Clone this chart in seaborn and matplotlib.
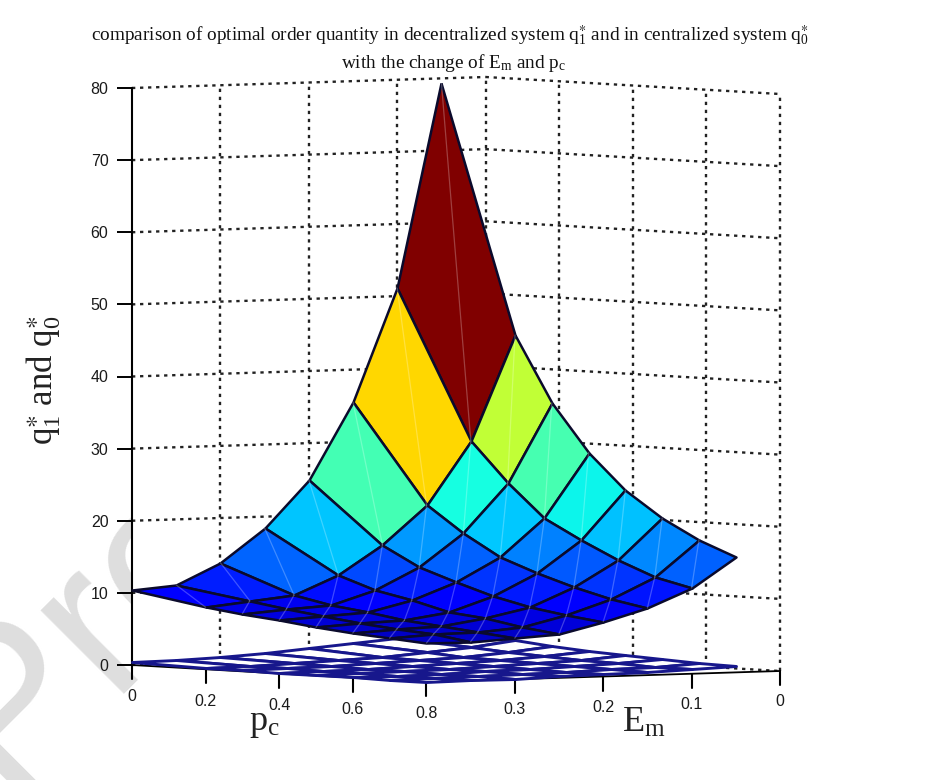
import numpy as np
import matplotlib
matplotlib.use("Agg")
import matplotlib.pyplot as plt
from matplotlib.colors import ListedColormap, FuncNorm
import seaborn as sns

sns.set_theme(style="white")
plt.rcParams["font.family"] = ["Liberation Sans", "DejaVu Sans"]
plt.rcParams["mathtext.fontset"] = "custom"
plt.rcParams["mathtext.rm"] = "Liberation Serif"
plt.rcParams["mathtext.it"] = "Liberation Serif"
plt.rcParams["mathtext.bf"] = "Liberation Serif:bold"

# ---- data ----
pc_values = [0.0, 0.2, 0.3, 0.4, 0.5, 0.6, 0.7, 0.8]
em_values = [0.05, 0.10, 0.15, 0.20, 0.25, 0.30, 0.35, 0.40]
q_surface = [
    [79.4, 51.1, 35.5, 24.9, 18.4, 13.8, 10.9, 10.4],
    [45.0, 30.5, 21.8, 16.5, 12.5, 9.9, 9.3, 8.6],
    [35.9, 25.0, 18.2, 13.7, 10.7, 8.8, 8.5, 8.0],
    [29.3, 20.4, 15.2, 11.9, 9.6, 8.1, 7.8, 7.4],
    [24.4, 17.7, 13.3, 10.3, 8.3, 7.3, 7.1, 6.7],
    [20.8, 15.2, 11.6, 9.0, 7.7, 6.8, 6.6, 6.2],
    [18.1, 13.1, 10.3, 8.2, 6.8, 6.3, 6.2, 5.8],
    [16.0, 11.9, 9.3, 7.6, 6.1, 5.7, 5.4, 5.4],
]
q_floor = [
    [3.2, 2.6, 2.1, 1.6, 1.1, 0.7, 0.5, 0.4],
    [2.7, 1.9, 1.4, 1.0, 0.7, 0.5, 0.3, 0.2],
    [2.2, 1.5, 1.1, 0.8, 0.55, 0.4, 0.25, 0.15],
    [1.8, 1.25, 0.9, 0.65, 0.45, 0.3, 0.2, 0.1],
    [1.5, 1.05, 0.75, 0.55, 0.35, 0.25, 0.15, 0.1],
    [1.3, 0.9, 0.65, 0.45, 0.3, 0.2, 0.1, 0.08],
    [1.0, 0.7, 0.5, 0.35, 0.25, 0.15, 0.1, 0.05],
    [0.9, 0.6, 0.4, 0.3, 0.2, 0.1, 0.05, 0.05],
]
z_ticks = [0, 10, 20, 30, 40, 50, 60, 70, 80]
pc_ticks = [0, 0.2, 0.4, 0.6, 0.8]
em_ticks = [0.3, 0.2, 0.1, 0]
pc_labels = ["0", "0.2", "0.4", "0.6", "0.8"]
em_labels = ["0.3", "0.2", "0.1", "0"]
title_1 = r"comparison of optimal order quantity in decentralized system $\mathregular{q_1^{\ast}}$ and in centralized system $\mathregular{q_0^{\ast}}$"
title_2 = r"with the change of $\mathregular{E_m}$ and $\mathregular{p_c}$"

W, H = 932, 780
PX_Z = 577 / 80
EDGE = "#0a0a2c"
GRID = "#222222"


def project(pc, em, z):
    """Oblique view of (pc, Em, q) onto the plot plane."""
    pc, em, z = np.asarray(pc, float), np.asarray(em, float), np.asarray(z, float)
    u = 368 * pc + 884 * (0.4 - em)
    v = z + (-21.25 * pc + 27.5 * (0.4 - em)) / PX_Z
    return u, v


def line(ax, pc, em, z, **kw):
    u, v = project(pc, em, z)
    sns.lineplot(x=np.atleast_1d(u), y=np.atleast_1d(v), ax=ax, sort=False,
                 estimator=None, clip_on=False, **kw)


def facet_level(z):
    return np.interp(z, [1, 10, 24.9, 35.5, 51.1, 79.4], [0, 0.10, 0.32, 0.43, 0.68, 1])


def facet_level_inv(t):
    return np.interp(t, [0, 0.10, 0.32, 0.43, 0.68, 1], [1, 10, 24.9, 35.5, 51.1, 79.4])


fig = plt.figure(figsize=(W / 100, H / 100), dpi=100, facecolor="white")

# watermark fragment behind the chart
fig.text(4 / W, 1 - 796 / H, "Pre", fontsize=160, color="#dedede", rotation=45,
         rotation_mode="anchor", ha="left", va="baseline", family="Liberation Sans", zorder=-5)

ax = fig.add_axes([132 / W, 1 - 665 / H, 648 / W, 577 / H])
ax.patch.set_facecolor("white")
for s in ["top", "right", "bottom"]:
    ax.spines[s].set_visible(False)

grid_kw = dict(color=GRID, linewidth=1.7, linestyle=(0, (1.4, 2.0)), zorder=1)
for z in z_ticks:
    line(ax, [0, 0], [0.4, 0], [z, z], **grid_kw)
    line(ax, [0, 0.8], [0, 0], [z, z], **grid_kw)
for em in [0.3, 0.2, 0.1, 0.0]:
    line(ax, [0, 0], [em, em], [0, 80], **grid_kw)
for pc in [0.2, 0.4, 0.6, 0.8]:
    line(ax, [pc, pc], [0, 0], [0, 80], **grid_kw)

# floor outline and its ticks
line(ax, [0, 0.8, 0.8], [0.4, 0.4, 0], [0, 0, 0], color="black", linewidth=1.3, zorder=2)
tick_drop = 14 / PX_Z
for pc in pc_ticks:
    line(ax, [pc, pc], [0.4, 0.4], [0, -tick_drop], color="black", linewidth=1.5, zorder=2)
for em in em_ticks:
    line(ax, [0.8, 0.8], [em, em], [0, -tick_drop], color="black", linewidth=1.5, zorder=2)

tick_font = dict(fontsize=11.5, color="#1a1a1a", ha="center", va="center",
                 textcoords="offset points", annotation_clip=False)
for pc, lab in zip(pc_ticks, pc_labels):
    u, v = project(pc, 0.4, 0)
    ax.annotate(lab, (u, v), xytext=(0, -23), **tick_font)
for em, lab in zip(em_ticks, em_labels):
    u, v = project(0.8, em, 0)
    ax.annotate(lab, (u, v), xytext=(0, -22), **tick_font)

PC, EM = np.meshgrid(pc_values, em_values, indexing="ij")
Zs = np.array(q_surface)
Zf = np.array(q_floor)

# lower surface: white mesh
Xf, Yf = project(PC, EM, Zf)
ax.pcolormesh(Xf, Yf, Zf[:-1, :-1], cmap=ListedColormap(["white"]), shading="flat",
              edgecolors="#17178c", linewidth=2.1, antialiased=True, zorder=3, clip_on=False)

# upper surface: one colour per facet
Xs, Ys = project(PC, EM, Zs)
norm = FuncNorm((facet_level, facet_level_inv), vmin=1, vmax=79.4)
ax.pcolormesh(Xs, Ys, Zs[:-1, :-1], cmap="jet", norm=norm, shading="flat",
              edgecolors=EDGE, linewidth=1.8, antialiased=True, zorder=4, clip_on=False)
# faint facet diagonals
for i in range(len(pc_values) - 1):
    for j in range(len(em_values) - 1):
        ax.plot([Xs[i, j], Xs[i + 1, j + 1]], [Ys[i, j], Ys[i + 1, j + 1]],
                color="white", alpha=0.25, linewidth=0.9, zorder=5, clip_on=False)

ax.set_xlim(0, 648)
ax.set_ylim(0, 80)
ax.set_xticks([])
ax.set_yticks(z_ticks)
ax.tick_params(axis="y", left=True, length=11, width=1.4, color="black", pad=6,
               labelsize=11.5, labelcolor="#1a1a1a")
ax.spines["left"].set_color("black")
ax.spines["left"].set_linewidth(1.5)
ax.spines["left"].set_bounds(0, 80)

serif = "Liberation Serif"
fig.text(450 / W, 1 - 36 / H, title_1, fontsize=13.9, family=serif, color="#111111",
         ha="center", va="center")
fig.text(454 / W, 1 - 63 / H, title_2, fontsize=13.9, family=serif, color="#111111",
         ha="center", va="center")
fig.text(44 / W, 1 - 380 / H, r"$\mathregular{q_1^{\ast}}$ and $\mathregular{q_0^{\ast}}$",
         fontsize=25, family=serif, rotation=90, color="#222222", ha="center", va="center")
fig.text(264 / W, 1 - 723 / H, r"$\mathregular{p_c}$", fontsize=26, family=serif,
         color="#222222", ha="center", va="center")
fig.text(644 / W, 1 - 723 / H, r"$\mathregular{E_m}$", fontsize=26, family=serif,
         color="#222222", ha="center", va="center")

fig.savefig("out.png", dpi=100, facecolor="white")
